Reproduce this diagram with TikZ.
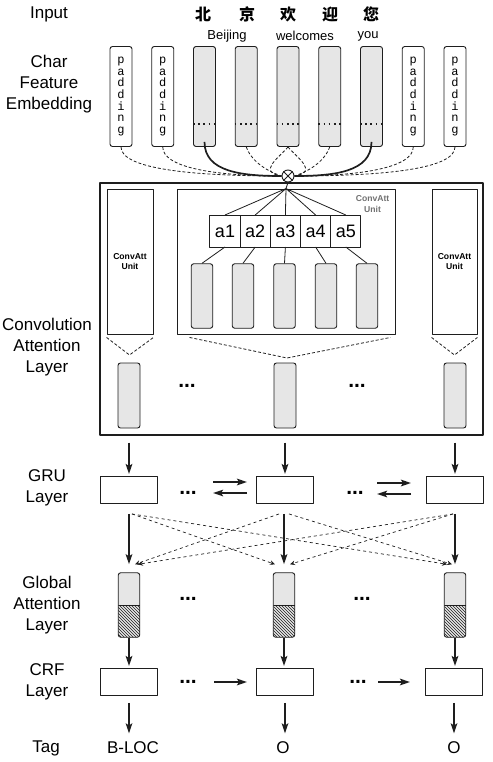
\documentclass[tikz,border=0pt]{standalone}
\usepackage{fontspec}
\setmainfont{Liberation Sans}
\setmonofont{Liberation Mono}
\newfontfamily\cjk{Noto Sans CJK SC}
\usetikzlibrary{arrows.meta, positioning, calc, patterns}
\definecolor{lineDark}{HTML}{1E1E1E}
\definecolor{boxGray}{HTML}{E6E6E6}
\definecolor{unitGray}{HTML}{707070}
\newcommand{\PadBox}[2]{
    % #1: node name, #2: x position
    \node[padbox] (#1) at (#2, 96.5) {p\\a\\d\\d\\i\\n\\g};
}
\newcommand{\CharBox}[2]{
    % #1: node name, #2: x position
    \node[charbox] (#1) at (#2, 96.5) {};
    \draw[line width=1.6pt, dash pattern=on 1.6pt off 3.6pt, lineDark] ([yshift=-27.5pt]#1.west) -- ([yshift=-27.5pt]#1.east);
}

\begin{document}
\begin{tikzpicture}[x=1pt, y=-1pt, line join=round,
    padbox/.style={draw=lineDark, line width=0.9pt, rounded corners=2.5pt, minimum width=22pt, minimum height=100pt, inner sep=0pt, align=center, font=\ttfamily\fontsize{12}{11.7}\selectfont},
    charbox/.style={padbox, fill=boxGray},
    layerlabel/.style={align=center, font=\fontsize{17}{21}\selectfont},
    unitbox/.style={draw=lineDark, line width=0.9pt, inner sep=0pt, align=center, font=\bfseries\fontsize{8.6}{10.5}\selectfont},
    abox/.style={draw=lineDark, line width=0.9pt, minimum width=30.2pt, minimum height=32pt, inner sep=0pt, outer sep=0pt, font=\fontsize{18}{18}\selectfont},
    cbox/.style={draw=lineDark, line width=0.9pt, fill=boxGray, rounded corners=2.5pt, minimum width=21.5pt, minimum height=64.5pt, inner sep=0pt},
    attbox/.style={cbox, path picture={
        \fill[pattern=north west lines, pattern color=lineDark] (path picture bounding box.west) rectangle (path picture bounding box.south east);
        \draw[lineDark, line width=0.9pt] (path picture bounding box.west) -- (path picture bounding box.east);}},
    cell/.style={draw=lineDark, line width=0.9pt, minimum width=57pt, minimum height=27pt, inner sep=0pt},
    dotsnode/.style={font=\bfseries\fontsize{21}{21}\selectfont, inner sep=0pt},
    arr/.style={lineDark, line width=2pt, -{Stealth[length=10pt, width=6.5pt, inset=2pt]}},
    dasharr/.style={lineDark, line width=0.7pt, dashed, -{Stealth[length=5pt, width=4.5pt]}},
    winline/.style={lineDark, line width=0.8pt, dash pattern=on 3pt off 2pt}
    ]
    \useasboundingbox (0,0) rectangle (492,762);

    % Layer names
    \node[layerlabel] (lInput) at (49,14) {Input};
    \node[layerlabel] (lEmb) at (49,84) {Char\\Feature\\Embedding};
    \node[layerlabel] (lConv) at (47,347) {Convolution\\Attention\\Layer};
    \node[layerlabel] (lGru) at (47,488) {GRU\\Layer};
    \node[layerlabel] (lAtt) at (47,605) {Global\\Attention\\Layer};
    \node[layerlabel] (lCrf) at (47,681.5) {CRF\\Layer};
    \node[layerlabel] (lTag) at (46,748) {Tag};

    % Input characters
    \node[font=\cjk\bfseries\fontsize{16}{16}\selectfont] (zh1) at (203,14) {北};
    \node[font=\cjk\bfseries\fontsize{16}{16}\selectfont] (zh2) at (247,14) {京};
    \node[font=\cjk\bfseries\fontsize{16}{16}\selectfont] (zh3) at (288,14) {欢};
    \node[font=\cjk\bfseries\fontsize{16}{16}\selectfont] (zh4) at (330,14) {迎};
    \node[font=\cjk\bfseries\fontsize{16}{16}\selectfont] (zh5) at (371,14) {您};
    \node[font=\fontsize{13}{13}\selectfont] (enBeijing) at (227,36) {Beijing};
    \node[font=\fontsize{13}{13}\selectfont] (enWelcomes) at (305,36) {welcomes};
    \node[font=\fontsize{13}{13}\selectfont] (enYou) at (368,36) {you};

    % Char embeddings
    \PadBox{p1}{121}
    \PadBox{p2}{162.75}
    \CharBox{b3}{204.5}
    \CharBox{b4}{246.25}
    \CharBox{b5}{288}
    \CharBox{b6}{329.75}
    \CharBox{b7}{371.5}
    \PadBox{p8}{413.25}
    \PadBox{p9}{455}

    % Merge point
    \node[circle, draw=lineDark, line width=0.9pt, fill=white, minimum size=12pt, inner sep=0pt] (otimes) at (288,176) {};
    \draw[lineDark, line width=0.9pt] (otimes.north west) -- (otimes.south east) (otimes.north east) -- (otimes.south west);

    % Window lines
    \draw[winline] (p1.south) .. controls +(0,22) and +(-90,0) .. (otimes.west);
    \draw[winline] (p2.south) .. controls +(0,20) and +(-70,0) .. (otimes.west);
    \draw[winline] (b4.south) .. controls +(4,12) and +(-18,-6) .. (otimes.west);
    \draw[winline] (b5.south) .. controls +(-8,10) and +(-25,-4) .. (otimes.west);
    \draw[winline] (b5.south) .. controls +(8,10) and +(25,-4) .. (otimes.east);
    \draw[winline] (b6.south) .. controls +(-4,12) and +(18,-6) .. (otimes.east);
    \draw[winline] (p8.south) .. controls +(0,20) and +(70,0) .. (otimes.east);
    \draw[winline] (p9.south) .. controls +(0,22) and +(90,0) .. (otimes.east);
    \draw[lineDark, line width=1.7pt] ([yshift=5pt]b3.south) .. controls +(0,30) and +(-40,0) .. (otimes.west);
    \draw[lineDark, line width=1.7pt] ([yshift=5pt]b7.south) .. controls +(0,30) and +(40,0) .. (otimes.east);

    % Convolution attention layer
    \node[draw=lineDark, line width=1.1pt, minimum width=383pt, minimum height=252pt, inner sep=0pt] (convLayer) at (291.5,309) {};
    \node[unitbox, minimum width=46pt, minimum height=145pt] (unitL) at (130,261.5) {ConvAtt\\Unit};
    \node[unitbox, minimum width=45pt, minimum height=145pt] (unitR) at (454.5,261.5) {ConvAtt\\Unit};
    \node[draw=lineDark, line width=0.9pt, minimum width=218pt, minimum height=145pt, inner sep=0pt] (unitM) at (286,261.5) {};
    \node[anchor=north east, align=center, text=unitGray, font=\bfseries\fontsize{8.6}{10.5}\selectfont, inner sep=0pt] (unitMLabel) at ([xshift=-6pt, yshift=-7pt]unitM.north east) {ConvAtt\\Unit};
    \draw[lineDark, line width=0.9pt] (otimes.south) -- (unitM.north);

    % Attention weights
    \node[abox] (a1) at (225,231) {a1};
    \node[abox, right=0pt of a1] (a2) {a2};
    \node[abox, right=0pt of a2] (a3) {a3};
    \node[abox, right=0pt of a3] (a4) {a4};
    \node[abox, right=0pt of a4] (a5) {a5};
    \draw[lineDark, line width=0.8pt] (unitM.north) -- (a1.north) (unitM.north) -- (a2.north) (unitM.north) -- (a3.north) (unitM.north) -- (a4.north) (unitM.north) -- (a5.north);

    % Window vectors
    \node[cbox] (s1) at (202,296) {};
    \node[cbox] (s2) at (243,296) {};
    \node[cbox] (s3) at (284.5,296) {};
    \node[cbox] (s4) at (326,296) {};
    \node[cbox] (s5) at (367,296) {};
    \draw[lineDark, line width=0.8pt] (a1.south) -- (s1.north) (a2.south) -- (s2.north) (a3.south) -- (s3.north) (a4.south) -- (s4.north) (a5.south) -- (s5.north);

    % Unit outputs
    \node[cbox, minimum width=22pt, minimum height=65pt] (h1) at (129,395.5) {};
    \node[cbox, minimum width=22pt, minimum height=65pt] (h2) at (285,395.5) {};
    \node[cbox, minimum width=22pt, minimum height=65pt] (h3) at (455,395.5) {};
    \node[dotsnode] (dC1) at (187,386) {...};
    \node[dotsnode] (dC2) at (357,386) {...};
    \coordinate (vL) at (129.5,355);
    \coordinate (vM) at (287,358);
    \coordinate (vR) at (454.5,355);
    \draw[winline] ([yshift=-3pt]unitL.south west) -- (vL) -- ([yshift=-3pt]unitL.south east);
    \draw[winline] ([xshift=13pt, yshift=-3pt]unitM.south west) -- (vM) -- ([xshift=-5pt, yshift=-3pt]unitM.south east);
    \draw[winline] ([yshift=-3pt]unitR.south west) -- (vR) -- ([yshift=-3pt]unitR.south east);

    % GRU layer
    \node[cell] (g1) at (129,490) {};
    \node[cell] (g2) at (285,490) {};
    \node[cell] (g3) at (455,490) {};
    \node[dotsnode] (dG1) at (188,493) {...};
    \node[dotsnode] (dG2) at (355,493) {...};
    \draw[arr, shorten <=7pt, shorten >=2pt] (h1 |- convLayer.south) -- (h1 |- g1.north);
    \draw[arr, shorten <=7pt, shorten >=2pt] (h2 |- convLayer.south) -- (h2 |- g2.north);
    \draw[arr, shorten <=7pt, shorten >=2pt] (h3 |- convLayer.south) -- (h3 |- g3.north);
    \draw[arr] ([xshift=-43pt, yshift=8pt]g2.west) -- ([xshift=-9pt, yshift=8pt]g2.west);
    \draw[arr] ([xshift=-9pt, yshift=-3pt]g2.west) -- ([xshift=-43pt, yshift=-3pt]g2.west);
    \draw[arr] ([xshift=-49pt, yshift=7pt]g3.west) -- ([xshift=-15pt, yshift=7pt]g3.west);
    \draw[arr] ([xshift=-15pt, yshift=-4pt]g3.west) -- ([xshift=-49pt, yshift=-4pt]g3.west);

    % Global attention layer
    \node[attbox] (t1) at (129,605) {};
    \node[attbox] (t2) at (284,605) {};
    \node[attbox] (t3) at (455,605) {};
    \node[dotsnode] (dA1) at (188,599) {...};
    \node[dotsnode] (dA2) at (362,599) {...};
    \draw[arr, shorten <=10pt, shorten >=8pt] (t1 |- g1.south) -- (t1.north);
    \draw[arr, shorten <=10pt, shorten >=8pt] (t2 |- g2.south) -- (t2.north);
    \draw[arr, shorten <=10pt, shorten >=8pt] (t3 |- g3.south) -- (t3.north);
    \draw[dasharr] ([xshift=3pt, yshift=-10pt]g1.south) -- ([xshift=-9pt, yshift=8pt]t2.north);
    \draw[dasharr] ([xshift=3pt, yshift=-10pt]g1.south) -- ([xshift=-8pt, yshift=8pt]t3.north);
    \draw[dasharr] ([xshift=-6pt, yshift=-10pt]g2.south) -- ([xshift=6pt, yshift=8pt]t1.north);
    \draw[dasharr] ([xshift=4pt, yshift=-10pt]g2.south) -- ([xshift=-3pt, yshift=8pt]t3.north);
    \draw[dasharr] ([xshift=-2pt, yshift=-10pt]g3.south) -- ([xshift=9pt, yshift=8pt]t1.north);
    \draw[dasharr] ([xshift=-2pt, yshift=-10pt]g3.south) -- ([xshift=6pt, yshift=8pt]t2.north);

    % CRF layer
    \node[cell] (r1) at (129,682) {};
    \node[cell] (r2) at (285,682) {};
    \node[cell] (r3) at (454,682) {};
    \node[dotsnode] (dR1) at (188,682) {...};
    \node[dotsnode] (dR2) at (358,682) {...};
    \draw[arr, shorten >=2pt] (t1.south) -- (t1 |- r1.north);
    \draw[arr, shorten >=2pt] (t2.south) -- (t2 |- r2.north);
    \draw[arr, shorten >=2pt] (t3.south) -- (t3 |- r3.north);
    \draw[arr] ([xshift=-42pt]r2.west) -- ([xshift=-9pt]r2.west);
    \draw[arr] ([xshift=-47pt]r3.west) -- ([xshift=-15pt]r3.west);

    % Tags
    \node[layerlabel] (tag1) at (133,748) {B-LOC};
    \node[layerlabel] (tag2) at (283,748) {O};
    \node[layerlabel] (tag3) at (454,748) {O};
    \draw[arr, shorten <=7pt, shorten >=5pt] (r1.south) -- (r1 |- tag1.north);
    \draw[arr, shorten <=7pt, shorten >=5pt] (r2.south) -- (r2 |- tag2.north);
    \draw[arr, shorten <=7pt, shorten >=5pt] (r3.south) -- (r3 |- tag3.north);
\end{tikzpicture}
\end{document}
